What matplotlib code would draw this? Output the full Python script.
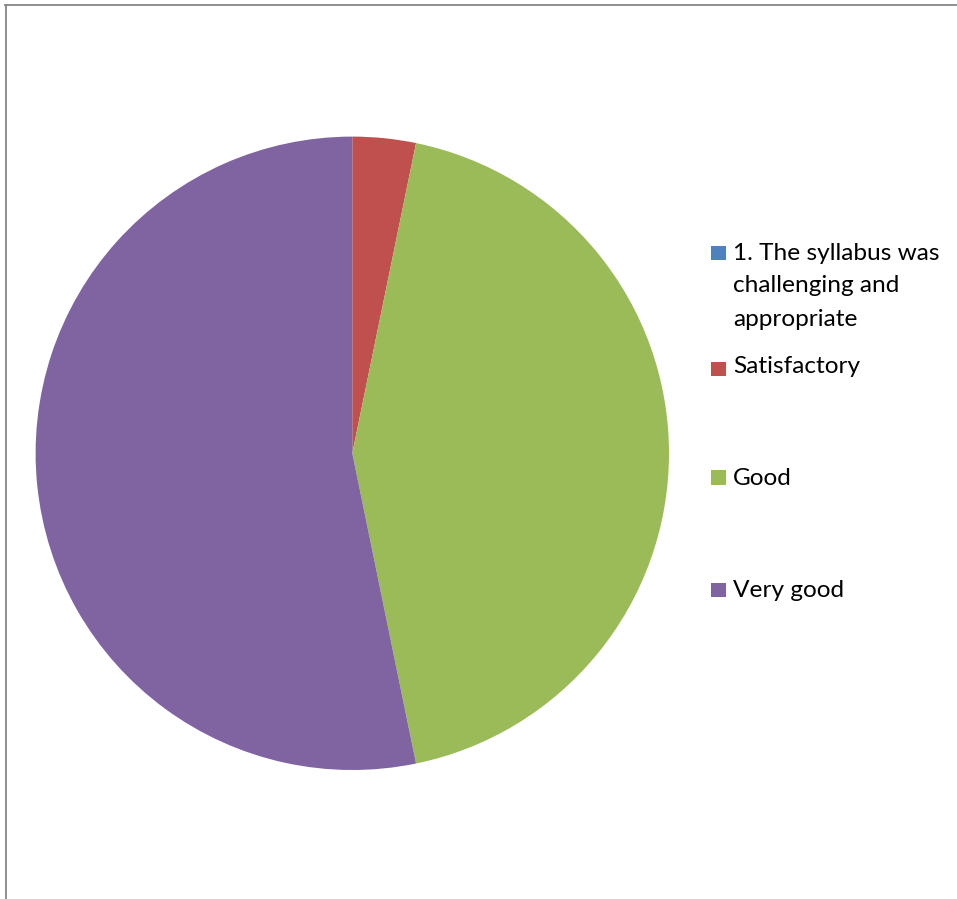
import matplotlib
matplotlib.use("Agg")
import matplotlib.pyplot as plt
from matplotlib.patches import Rectangle
from matplotlib.lines import Line2D

categories = ["1. The syllabus was\nchallenging and\nappropriate", "Satisfactory", "Good", "Very good"]
values = [0, 2, 27, 33]
colors = ["#4F81BD", "#C0504D", "#9BBB59", "#8064A2"]

W, H = 957, 899
fig = plt.figure(figsize=(W / 100, H / 100), dpi=100)
fig.patch.set_facecolor("white")

cx, cy, r = 352.3, 453.3, 316.7
ax = fig.add_axes([(cx - r) / W, 1 - (cy + r) / H, 2 * r / W, 2 * r / H])
ax.pie(values, colors=colors, startangle=90, counterclock=False,
       wedgeprops=dict(linewidth=0), radius=1)
ax.set_xlim(-1, 1)
ax.set_ylim(-1, 1)
ax.set_aspect("auto")
ax.axis("off")

# legend (manual layout matching reference spacing)
marker_tops = [245.7, 361.7, 470.0, 582.7]
baselines = [259.5, 373.0, 485.0, 597.0]
line_h = 33.0
msize = 14.5
for cat, col, top, bl in zip(categories, colors, marker_tops, baselines):
    fig.patches.append(Rectangle((711 / W, 1 - (top + msize) / H), msize / W, msize / H,
                                 transform=fig.transFigure, facecolor=col, edgecolor="none"))
    for i, line in enumerate(cat.split("\n")):
        fig.text(733 / W, 1 - (bl + i * line_h) / H, line, ha="left", va="baseline",
                 fontsize=17.6, family=["Lato", "DejaVu Sans"], color="black")

# frame lines (left and top)
fig.lines.append(Line2D([5.5 / W, 5.5 / W], [0, 1 - 4.5 / H], transform=fig.transFigure,
                        color="#868686", linewidth=1.3))
fig.lines.append(Line2D([5 / W, 1], [1 - 4.5 / H, 1 - 4.5 / H], transform=fig.transFigure,
                        color="#868686", linewidth=1.3))

fig.savefig("out.png", dpi=100, facecolor="white")
